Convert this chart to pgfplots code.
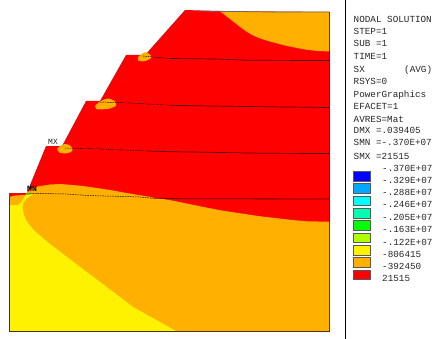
\documentclass[border=0pt]{standalone}
\usepackage{pgfplots}
\usepackage{fontspec}
\setmainfont{Liberation Mono}
\pgfplotsset{compat=1.18}
\definecolor{ansO}{HTML}{FFB000}
\definecolor{ansB}{HTML}{00A8FF}
\definecolor{ansC}{HTML}{00FFFF}
\definecolor{ansT}{HTML}{00FFB0}
\definecolor{ansL}{HTML}{B0FF00}
\begin{document}
\begin{tikzpicture}[x=1pt,y=1pt]
\useasboundingbox (0,0) rectangle (438pt,339pt);
\begin{axis}[at={(0,0)},anchor=south west,scale only axis,width=438pt,height=339pt,xmin=0,xmax=438,ymin=0,ymax=339,y dir=reverse,
  axis lines=none,clip=true,
  legcell/.style={draw=black!65,line width=0.7pt}]
% red body
\addplot[fill=red,draw=none] coordinates {(9,193)(27,193)(30,185)(46,146)(62,146)(86,101)(100,101)(126,55)(145,55)(185,10)(200,10.5)(220,11)(329,12)(329,331)(9,331)} --cycle;
% upper right orange
\addplot[fill=ansO,draw=none] coordinates {(220,11.5)(226,16)(233,21.5)(240,27)(247,32)(253,35.5)(260,38.5)(268,41)(277,43.5)(287,46)(297,48)(307,49.8)(317,51)(329,51.5)(329,12)} --cycle;
% main orange
\addplot[fill=ansO,draw=none] coordinates {(9,197)(15,195.5)(25,195)(33,187.5)(40,186)(50,184.5)(60,184)(70,184.8)(83,186)(97,188)(110,190)(125,192.7)(140,195.3)(157,198)(173,200.7)(190,204.2)(207,207.7)(223,210.7)(240,213.3)(258,216)(277,218.3)(292,220)(307,221.3)(329,221.7)(329,331)(9,331)} --cycle;
% yellow
\addplot[fill=yellow,draw=none] coordinates {(9,205)(18,205)(22,201)(25,195.5)(29,194)(33,194)(27,198)(23.5,203)(22.5,207)(23.3,212)(25,218)(28,223)(32,228)(37,233)(44,239)(52,245.5)(67,257)(100,282)(133,307)(176,331)(9,331)} --cycle;
\addplot[fill=green,draw=none] coordinates {(27,192.8)(29.5,192.8)(29.5,194.5)(27,194.5)} --cycle;
% blobs
\addplot[fill=ansO,draw=none,smooth] coordinates {(57,149)(60,146)(65,144)(70,145.5)(72.5,149)(71,152)(65,153.5)(59,152.5)} --cycle;
\addplot[fill=ansO,draw=none,smooth] coordinates {(95,106)(100,101.5)(108,98.5)(115,101.5)(116,105.5)(110,108.5)(100,109.5)(96,109)} --cycle;
\addplot[fill=ansO,draw=none,smooth] coordinates {(138,57)(143,53)(147,52.5)(151.5,57)(148,60)(143,61.5)(138,60.5)} --cycle;
% frame
\addplot[draw=black!70!ansO,line width=0.7pt] coordinates {(9,197)(9,331)(329,331)(329,12)};
\addplot[draw=black!60,line width=0.7pt] coordinates {(197,11)(270,12)(329,12)};
% mesh lines
\addplot[black,line width=0.5pt,dash pattern=on 1.5pt off 1pt] coordinates {(30,193.3)(66,194)(88,195.5)(140,197)(150,198)};
\addplot[black!60!red,line width=0.8pt] coordinates {(150,198)(180,198.7)(329,199)};
\addplot[black,line width=0.5pt,dash pattern=on 1.5pt off 1pt] coordinates {(65,148)(100,149)(147,151)};
\addplot[black!70!red,line width=0.7pt] coordinates {(147,151)(170,151.7)(210,152.3)(265,153.3)(329,153.5)};
\addplot[black,line width=0.5pt,dash pattern=on 1.5pt off 1pt] coordinates {(100,102)(130,103)(170,105.3)};
\addplot[black!70!red,line width=0.7pt] coordinates {(170,105.3)(230,106.3)(329,107.5)};
\addplot[black,line width=0.5pt,dash pattern=on 1.5pt off 1pt] coordinates {(143,56)(170,58.5)};
\addplot[black!70!red,line width=0.7pt] coordinates {(170,58.5)(215,59)(250,60.3)(329,60.5)};
% panel rule
\addplot[black,line width=0.8pt] coordinates {(345.5,0)(345.5,339)};
% legend swatches
\addplot[fill=blue,legcell] coordinates {(353.5,171.5)(370.5,171.5)(370.5,181)(353.5,181)} --cycle;
\addplot[fill=ansB,legcell] coordinates {(353.5,183.5)(370.5,183.5)(370.5,193)(353.5,193)} --cycle;
\addplot[fill=ansC,legcell] coordinates {(353.5,196)(370.5,196)(370.5,205.5)(353.5,205.5)} --cycle;
\addplot[fill=ansT,legcell] coordinates {(353.5,208.5)(370.5,208.5)(370.5,218)(353.5,218)} --cycle;
\addplot[fill=green,legcell] coordinates {(353.5,220.5)(370.5,220.5)(370.5,230)(353.5,230)} --cycle;
\addplot[fill=ansL,legcell] coordinates {(353.5,233)(370.5,233)(370.5,242.5)(353.5,242.5)} --cycle;
\addplot[fill=yellow,legcell] coordinates {(353.5,245.5)(370.5,245.5)(370.5,255)(353.5,255)} --cycle;
\addplot[fill=ansO,legcell] coordinates {(353.5,257.5)(370.5,257.5)(370.5,267)(353.5,267)} --cycle;
\addplot[fill=red,legcell] coordinates {(353.5,270)(370.5,270)(370.5,279.5)(353.5,279.5)} --cycle;
% labels
\tikzset{lab/.style={anchor=base west,inner sep=0pt,text=black!85,font=\fontsize{9.3}{9.3}\selectfont}}
\node[lab] at (axis cs:353.5,23) {NODAL SOLUTION};
\node[lab] at (axis cs:353.5,35) {STEP=1};
\node[lab] at (axis cs:353.5,46.5) {SUB =1};
\node[lab] at (axis cs:353.5,59.5) {TIME=1};
\node[lab] at (axis cs:353.5,72.5) {SX};
\node[lab] at (axis cs:404,72.5) {(AVG)};
\node[lab] at (axis cs:353.5,85) {RSYS=0};
\node[lab] at (axis cs:353.5,97.5) {PowerGraphics};
\node[lab] at (axis cs:353.5,110) {EFACET=1};
\node[lab] at (axis cs:353.5,122.5) {AVRES=Mat};
\node[lab] at (axis cs:353.5,134) {DMX =.039405};
\node[lab] at (axis cs:353.5,146) {SMN =-.370E+07};
\node[lab] at (axis cs:353.5,159) {SMX =21515};
\node[lab] at (axis cs:382,171) {-.370E+07};
\node[lab] at (axis cs:382,183) {-.329E+07};
\node[lab] at (axis cs:382,195) {-.288E+07};
\node[lab] at (axis cs:382,207) {-.246E+07};
\node[lab] at (axis cs:382,220) {-.205E+07};
\node[lab] at (axis cs:382,232) {-.163E+07};
\node[lab] at (axis cs:382,245) {-.122E+07};
\node[lab] at (axis cs:382,257) {-806415};
\node[lab] at (axis cs:382,269) {-392450};
\node[lab] at (axis cs:382,281) {21515};
\node[lab,font=\fontsize{8}{8}\selectfont] at (axis cs:48,145) {MX};
\node[lab,text=black,font=\fontsize{8}{8}\selectfont\bfseries] at (axis cs:27,191.5) {MN};
\end{axis}
\end{tikzpicture}
\end{document}
